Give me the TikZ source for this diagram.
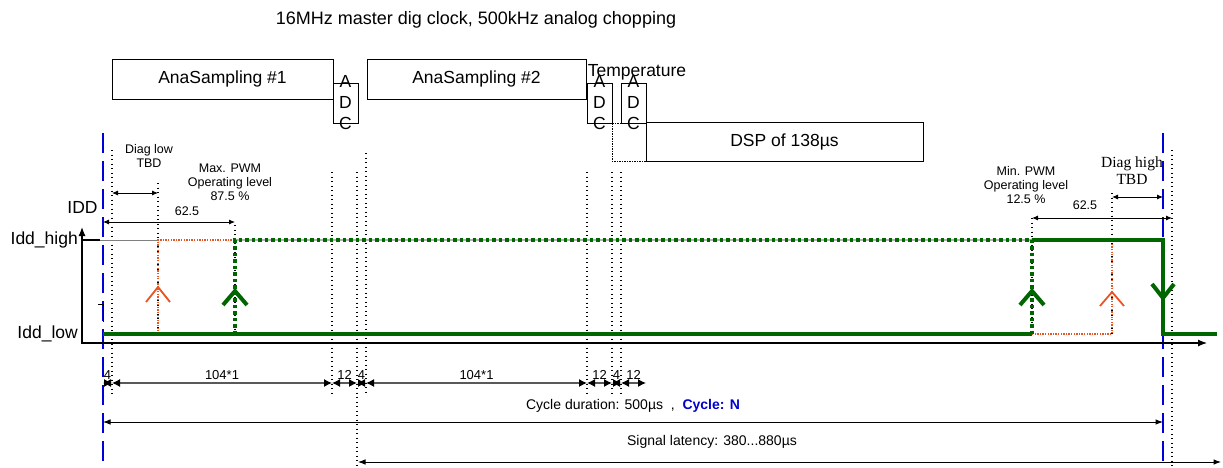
\documentclass[tikz,border=0pt]{standalone}
\usepackage{fontspec}
\setmainfont{Liberation Sans}
\newfontfamily\diagserif{Liberation Serif}
\usepackage{tikz}
\usetikzlibrary{arrows.meta}
\tikzset{>=Latex}
\colorlet{sigcol}{green!40!black}
\definecolor{diagcol}{RGB}{232,85,35}
\colorlet{cyccol}{blue!80!black}
\tikzset{big/.style={font=\fontsize{17.5}{21}\selectfont}}
\tikzset{small/.style={font=\fontsize{12.5}{14}\selectfont,align=center,inner sep=0pt}}
\tikzset{block/.style={draw,line width=0.9pt,inner sep=0pt,big}}
\tikzset{adcbox/.style={draw,line width=0.9pt,inner sep=0pt,minimum width=25pt,minimum height=40pt}}
\tikzset{adctxt/.style={big,align=center,inner sep=0pt}}
\tikzset{dotline/.style={line width=1.3pt,dash pattern=on 1.3pt off 3.2pt}}
\tikzset{cycleline/.style={blue!85!black,line width=2pt,dash pattern=on 20pt off 8pt}}
\tikzset{sigsolid/.style={sigcol,line width=4pt}}
\tikzset{sigdash/.style={sigcol,line width=4pt,dash pattern=on 3.5pt off 3pt}}
\tikzset{diagline/.style={diagcol,line width=1.3pt,dash pattern=on 1.3pt off 1.3pt}}
\tikzset{dim/.style={line width=0.9pt,{Latex[length=6pt,width=5pt]}-{Latex[length=6pt,width=5pt]}}}
\tikzset{seg/.style={gray!70!black,line width=1.2pt,{Latex[color=black,length=8pt,width=8pt]}-{Latex[color=black,length=8pt,width=8pt]}}}

\begin{document}
\begin{tikzpicture}[x=1pt,y=-1pt]
    \useasboundingbox (0,0) rectangle (1223,468);

    \node[font=\fontsize{18}{21}\selectfont] (title) at (476,20) {16MHz master dig clock, 500kHz analog chopping};

    % blocks
    \node[block,minimum width=221pt,minimum height=40pt] (ana1) at (222.5,79) {AnaSampling \#1};
    \node[adcbox] (adc1) at (345.5,103) {};
    \node[adctxt] (adc1t) at (adc1) {A\\D\\C};
    \node[block,minimum width=219pt,minimum height=40pt] (ana2) at (476.5,79) {AnaSampling \#2};
    \node[adcbox] (adc2) at (599.5,103) {};
    \node[adctxt] (adc2t) at (adc2) {A\\D\\C};
    \node[adcbox] (adc3) at (633.5,103) {};
    \node[adctxt] (adc3t) at (adc3) {A\\D\\C};
    \node[big,inner sep=0pt] (temp) at (637,72) {Temperature};
    \node[block,minimum width=277pt,minimum height=39pt] (dsp) at (784.5,141.5) {DSP of 138µs};
    \coordinate (dspc) at (adc2.south east |- dsp.south);
    \draw[line width=1.5pt,densely dotted] (adc2.south east) -- (adc3.south west);
    \draw[line width=1.5pt,densely dotted] (adc2.south east) -- (dspc) -- (dsp.south west);

    % cycle borders and time marks
    \draw[cycleline] (103,133) -- (103,468);
    \draw[cycleline] (1163,133) -- (1163,468);
    \foreach \x/\ya/\yb in {112/150/395, 158/183/334, 235/225/334, 332/172/395, 357/172/468,
        366/153/395, 587/172/395, 612/172/395, 621/172/395, 1032/218/334, 1112/193/334, 1172/150/468}
        \draw[dotline] (\x,\ya) -- (\x,\yb);

    % axes
    \coordinate (orig) at (82,343);
    \draw[line width=1.2pt,{Latex[length=9pt,width=7pt]}-{Latex[length=9pt,width=7pt]}] (82,227) |- (1207,343);
    \draw[gray,line width=1pt] (82,240) -- (158,240);
    \draw[line width=1.2pt] (82,240) -- (100,240);
    \draw[line width=1pt] (98,304) -- (103,304) -- (103,322);
    \node[big,inner sep=0pt] (idd) at (82.5,207) {IDD};
    \node[big,inner sep=0pt,anchor=east] (iddh) at (78,240) {Idd\_high};
    \node[big,inner sep=0pt,anchor=east] (iddl) at (78,334) {Idd\_low};

    % diagnostic pulses
    \draw[diagline] (158,334) -- (158,240) -- (235,240);
    \draw[diagline] (1032,334) -- (1112,334) -- (1112,240);
    \draw[diagcol,line width=1.8pt] (146,302) -- (158,287) -- (170,302);
    \draw[diagcol,line width=1.8pt] (1100,306) -- (1112,292) -- (1124,306);

    % supply current
    \draw[gray!60,line width=2pt] (235,240) -- (1032,240);
    \draw[sigdash] (235,334) -- (235,240) -- (1032,240) -- (1032,334);
    \draw[sigsolid] (103,334) -- (1032,334);
    \draw[sigsolid] (1032,240) -- (1163,240) -- (1163,334) -- (1217,334);
    \draw[sigcol,line width=4pt] (223,305) -- (235,291) -- (247,305);
    \draw[sigcol,line width=4pt] (1020,305) -- (1032,291) -- (1044,305);
    \draw[sigcol,line width=4pt] (1152,284) -- (1163,298) -- (1174,284);

    % dimensions
    \draw[dim] (112,193) -- (158,193);
    \draw[dim] (103,222) -- (235,222);
    \node[small] (d1) at (187,211) {62.5};
    \draw[dim] (1112,197) -- (1163,197);
    \draw[dim] (1032,218) -- (1172,218);
    \node[small] (d2) at (1085,205) {62.5};
    \node[small] (diaglow) at (149,156) {Diag low\\TBD};
    \node[small] (maxpwm) at (230,182) {Max. PWM\\Operating level\\87.5 \%};
    \node[small] (minpwm) at (1026,185) {Min. PWM\\Operating level\\12.5 \%};
    \node[font=\diagserif\fontsize{15.5}{17}\selectfont,align=center,inner sep=0pt] (diaghigh) at (1132,171) {Diag high\\TBD};

    % time axis
    \foreach \n/\x in {0/103, 1/112, 2/332, 3/357, 4/366, 5/587, 6/612, 7/621, 8/646}
        \coordinate (t\n) at (\x,383);
    \foreach \a/\b/\lab in {0/1/4, 1/2/104*1, 2/3/12, 3/4/4, 4/5/104*1, 5/6/12, 6/7/4, 7/8/12}
        \draw[seg] (t\a) -- node[above=3pt,small,text=black,font=\fontsize{13}{14}\selectfont] {\lab} (t\b);

    \coordinate (c0) at (103,422);
    \coordinate (c1) at (1163,422);
    \draw[line width=1pt,<->] (c0) -- (c1);
    \node[font=\fontsize{14}{16}\selectfont] (cyc) at (633,406) {Cycle duration: 500µs\ \ ,\ \ \textcolor{cyccol}{\bfseries Cycle: N}};
    \coordinate (l0) at (358,462);
    \coordinate (l1) at (1221,462);
    \draw[line width=1pt,<->] (l0) -- (l1);
    \node[font=\fontsize{14}{16}\selectfont] (lat) at (712,442) {Signal latency: 380...880µs};
\end{tikzpicture}
\end{document}
